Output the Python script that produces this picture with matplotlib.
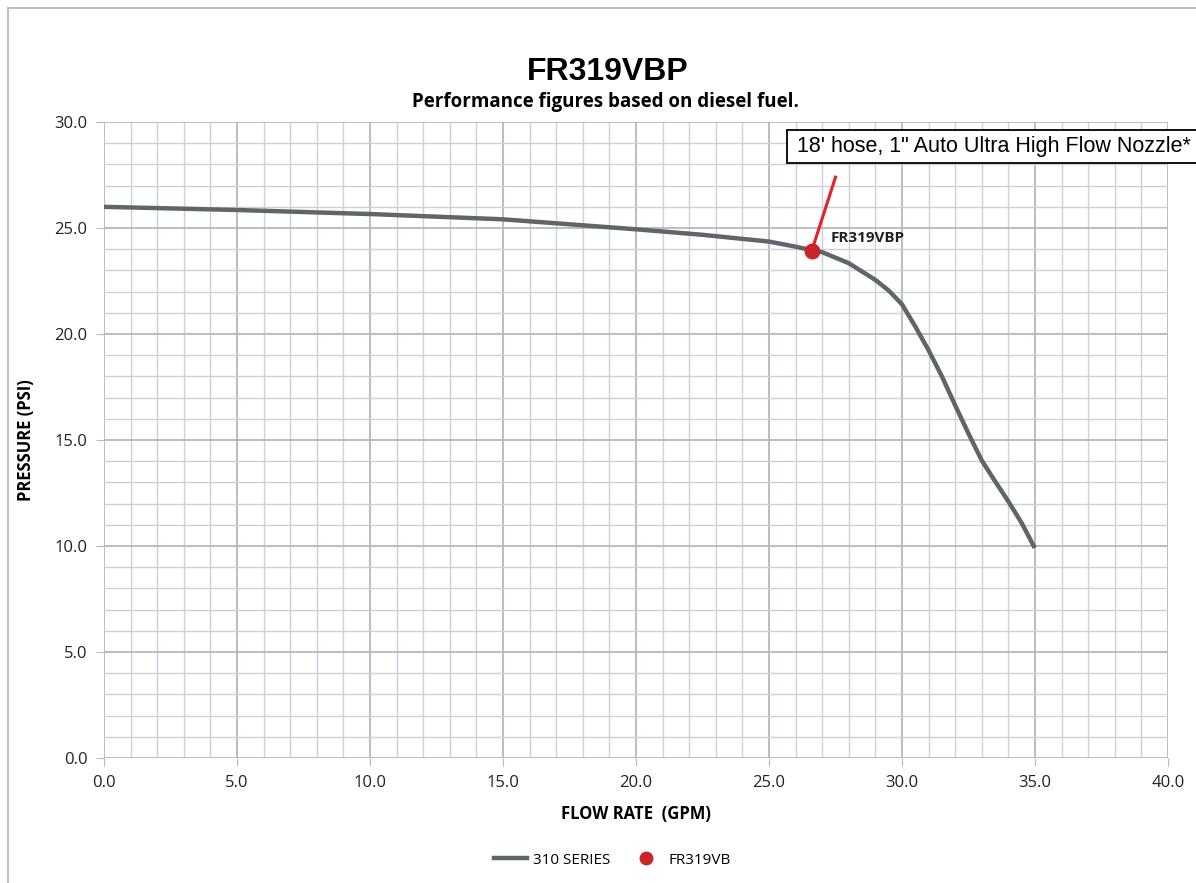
import numpy as np
import matplotlib.pyplot as plt
from matplotlib.lines import Line2D
from matplotlib.patches import Rectangle

# 310 series curve
flow = [0.0, 5.0, 10.0, 15.0, 20.0, 22.5, 25.0, 26.0, 26.6, 27.0, 28.0, 29.0, 29.5,
        30.0, 30.5, 31.0, 31.5, 32.0, 32.5, 33.0, 33.5, 34.0, 34.5, 34.95]
pressure = [26.0, 25.85, 25.66, 25.41, 24.94, 24.68, 24.36, 24.12, 23.95, 23.86, 23.34, 22.55, 22.05,
            21.4, 20.35, 19.23, 18.0, 16.63, 15.3, 14.03, 13.05, 12.1, 11.08, 10.0]

# operating point
pt_flow = [26.6]
pt_pressure = [23.9]
pt_label = 'FR319VBP'

title = 'FR319VBP'
subtitle = 'Performance figures based on diesel fuel.'
note = '18\' hose, 1" Auto Ultra High Flow Nozzle*'

fig = plt.figure(figsize=(11.96, 8.83), dpi=100)
ax = fig.add_axes([0.087, 0.1416, 0.8896, 0.7202])

ax.set_xlim(0, 40)
ax.set_ylim(0, 30)
ax.set_xticks(np.arange(0, 41, 5))
ax.set_yticks(np.arange(0, 31, 5))
ax.set_xticks(np.arange(0, 41, 1), minor=True)
ax.set_yticks(np.arange(0, 31, 1), minor=True)
ax.set_xticklabels([f'{v:.1f}' for v in np.arange(0, 41, 5)])
ax.set_yticklabels([f'{v:.1f}' for v in np.arange(0, 31, 5)])
ax.grid(which='major', color='#b4b8c0', lw=1.3)
ax.grid(which='minor', color='#cdd0d8', lw=1.0)
ax.set_axisbelow(True)
for s in ax.spines.values():
    s.set_visible(False)
ax.tick_params(which='major', length=6, color='#b4b8c0', labelsize=12, pad=6)
ax.tick_params(which='minor', length=0)
for lab in ax.get_xticklabels() + ax.get_yticklabels():
    lab.set_fontfamily('Open Sans')
    lab.set_color('#222222')

ax.plot(flow, pressure, color='#5f6669', lw=3.2, solid_joinstyle='round', zorder=3)
ax.plot([pt_flow[0], 27.5], [pt_pressure[0], 27.4], color='#e8202a', lw=2.2, zorder=4)
ax.scatter(pt_flow, pt_pressure, s=110, color='#c8262c', zorder=5)
ax.text(pt_flow[0] + 0.7, pt_pressure[0] + 0.45, pt_label, fontsize=11, fontweight='bold',
        family='Open Sans', color='#222222', zorder=6)

ax.set_xlabel('FLOW RATE  (GPM)', fontsize=12, fontweight='bold', family='Open Sans', labelpad=10)
ax.set_ylabel('PRESSURE (PSI)', fontsize=12, fontweight='bold', family='Open Sans', labelpad=14)

# note box
fig.add_artist(Rectangle((787 / 1196, 1 - 163 / 883), 420 / 1196, 33 / 883,
                         transform=fig.transFigure, fc='white', ec='black', lw=1.3, clip_on=False))
fig.text(797 / 1196, 1 - 146 / 883, note, fontsize=15.5, family='Liberation Sans', va='center')

fig.text(0.508, 1 - 72 / 883, title, fontsize=23, fontweight='bold', family='Liberation Sans',
         ha='center', va='center')
fig.text(0.506, 1 - 102 / 883, subtitle, fontsize=13.5, fontweight='bold', family='Open Sans',
         ha='center', va='center')

# frame around the chart area
fig.add_artist(Line2D([8 / 1196, 8 / 1196], [0, 1 - 8 / 883], transform=fig.transFigure,
                      color='#c0c0c0', lw=1.5))
fig.add_artist(Line2D([8 / 1196, 1], [1 - 8 / 883, 1 - 8 / 883], transform=fig.transFigure,
                      color='#c0c0c0', lw=1.5))

handles = [Line2D([0], [0], color='#5f6669', lw=3.2),
           Line2D([0], [0], marker='o', color='none', markerfacecolor='#c8262c',
                  markeredgecolor='#c8262c', markersize=9)]
fig.legend(handles, ['310 SERIES', 'FR319VB'], loc='center', bbox_to_anchor=(0.512, 1 - 860 / 883),
           ncol=2, frameon=False, prop={'family': 'Open Sans', 'size': 11}, columnspacing=1.2,
           handlelength=2.2, handletextpad=0.4)

fig.savefig('out.png', dpi=100)
